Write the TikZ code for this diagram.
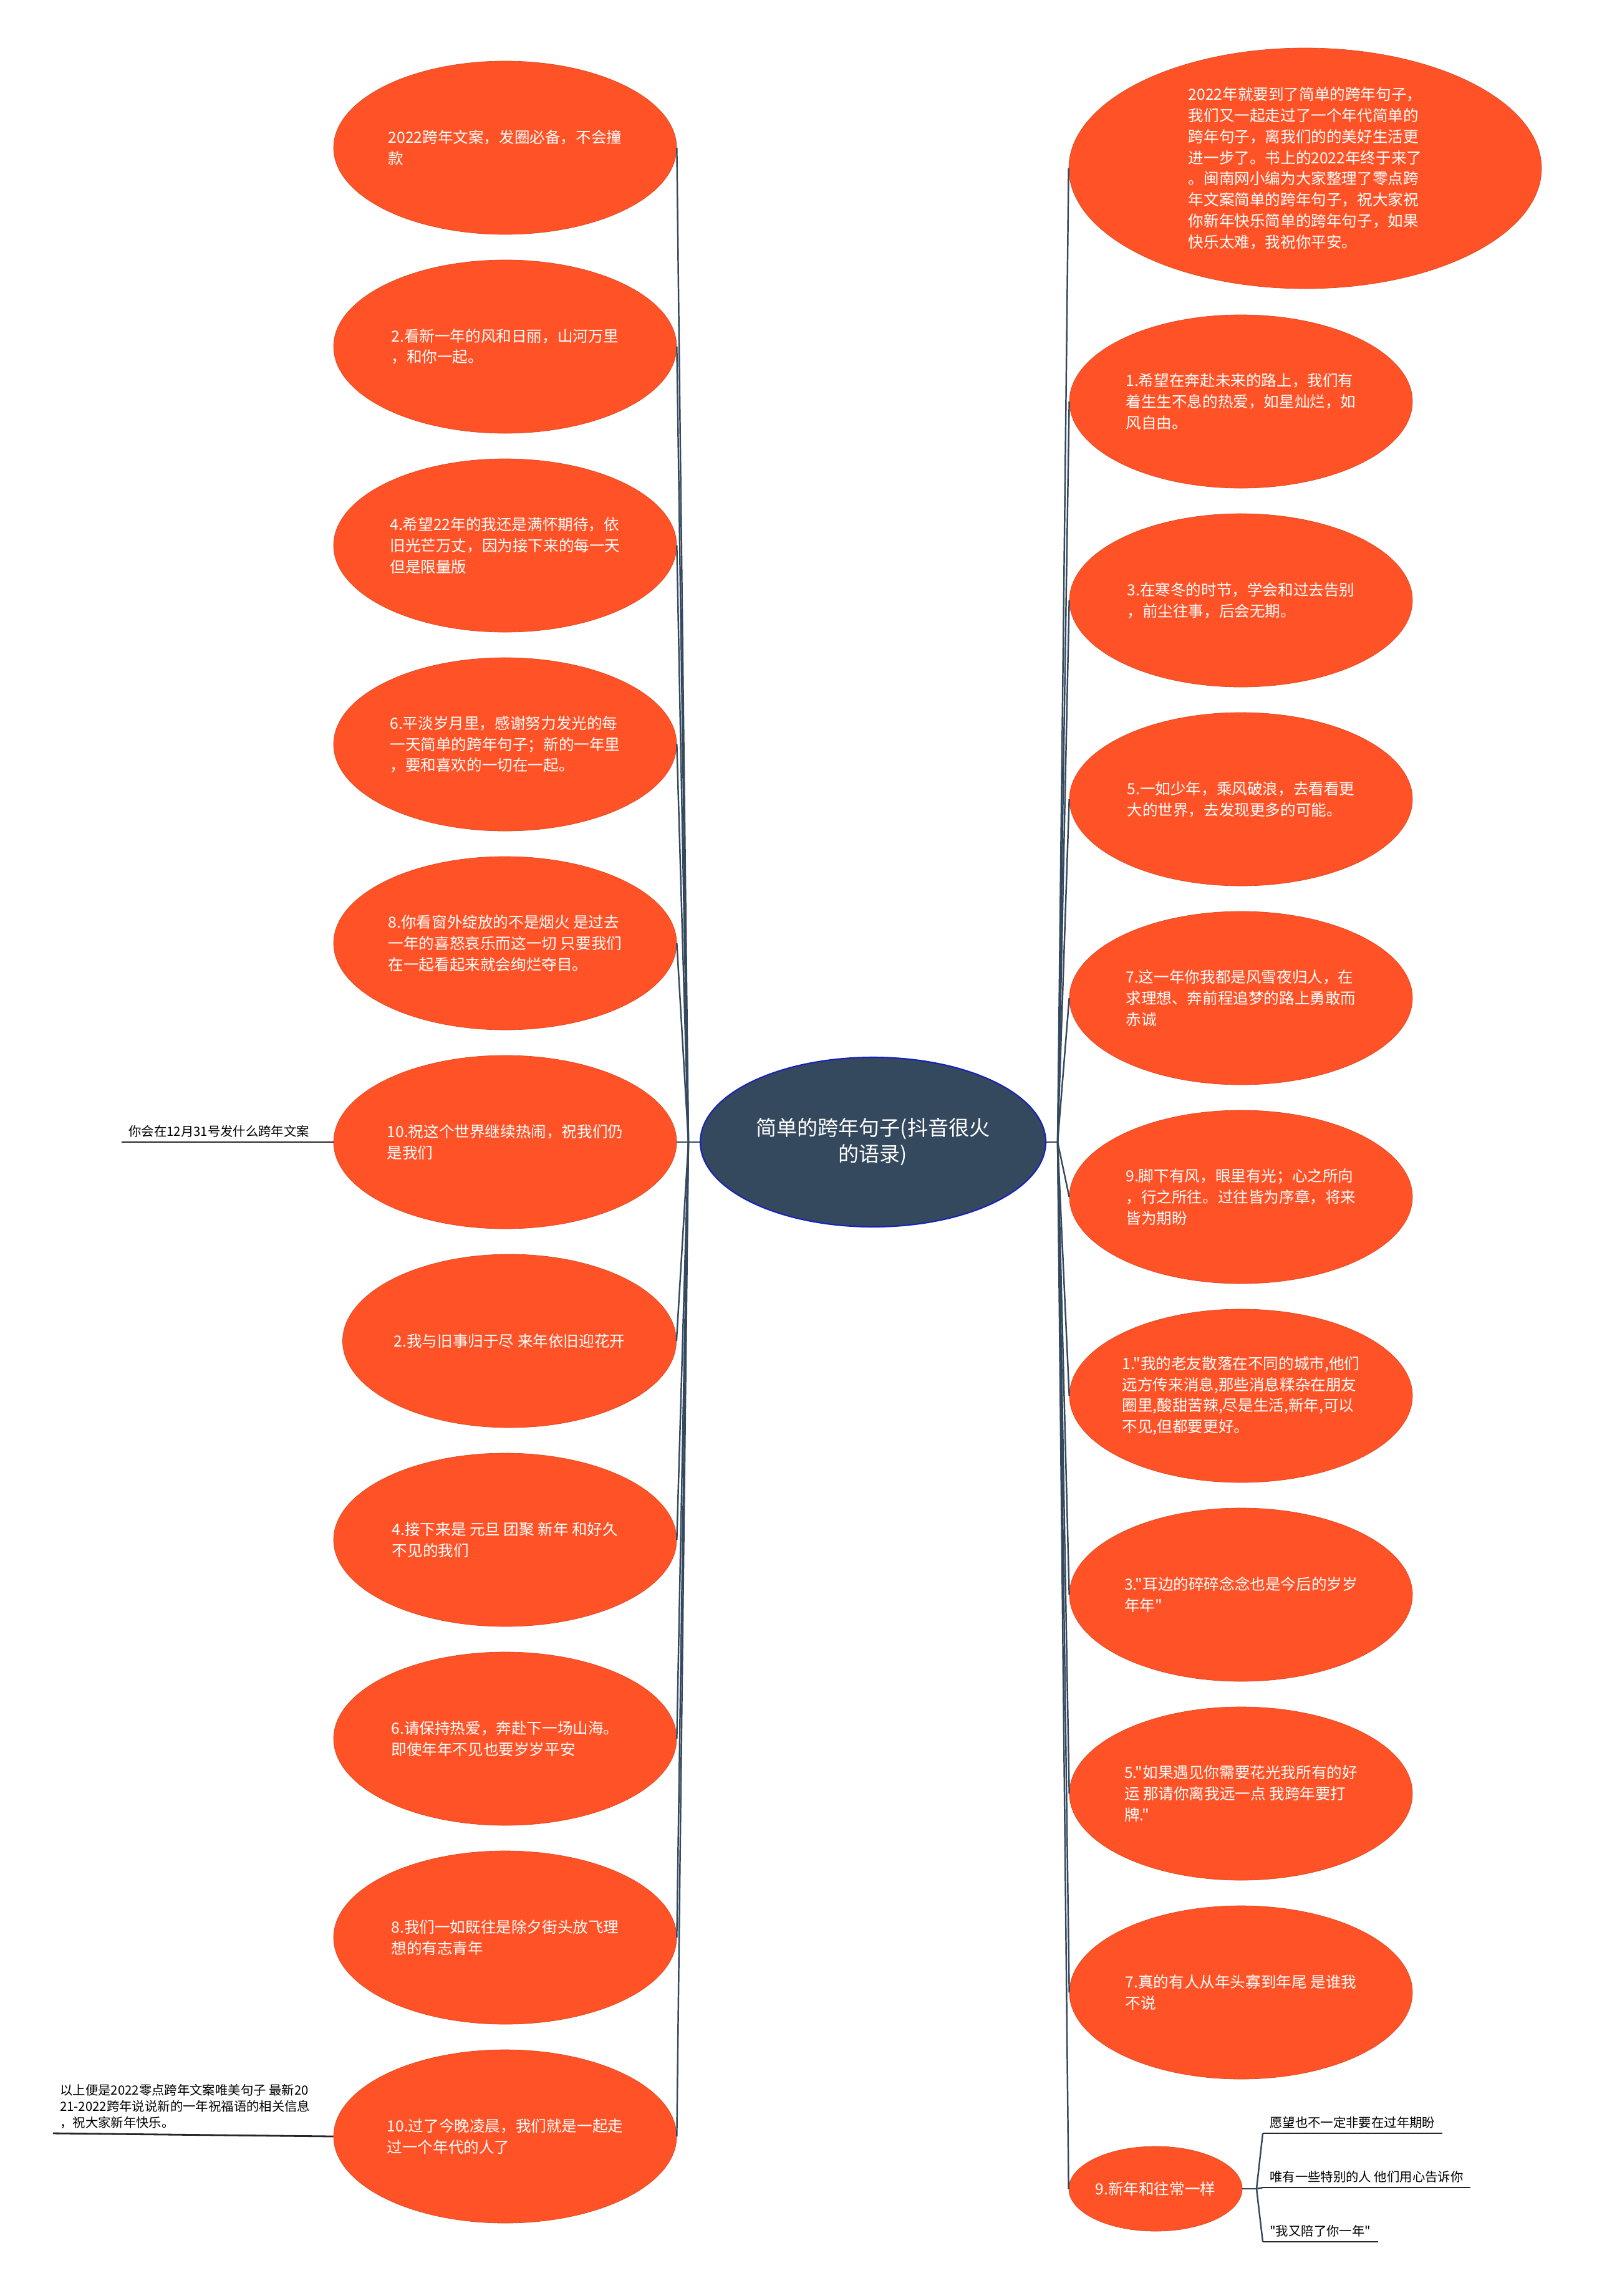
\documentclass[tikz,border=0pt]{standalone}
\usepackage{fontspec}
\newfontfamily\cjkfont{Noto Sans CJK SC}
\usepackage{tikz}
\usetikzlibrary{shapes.geometric}
\definecolor{fire}{HTML}{FF5227}
\definecolor{slate}{HTML}{34495E}

\begin{document}
\begin{tikzpicture}[
  idea/.style={ellipse,fill=fire,draw=fire!85!black,line width=0.2pt,text=white,inner sep=0pt,
    minimum width=5.5cm,minimum height=2.78cm,align=left,font=\cjkfont\fontsize{7}{9.6}\selectfont},
  topic/.style={ellipse,fill=slate,draw=blue!55!slate,line width=0.6pt,text=white,inner sep=0pt,
    minimum width=5.54cm,minimum height=2.72cm,align=center,font=\cjkfont\fontsize{9.4}{12}\selectfont},
  note/.style={inner xsep=3pt,inner ysep=2pt,align=left,font=\cjkfont\fontsize{5.8}{7.3}\selectfont},
  link/.style={draw=slate,line width=0.7pt},
  under/.style={draw=black!85,line width=0.8pt}
]
\useasboundingbox (0,0) rectangle (25.6,-36.83);

\node[topic] (root) at (14.00,-18.32) {简单的跨年句子(抖音很火\\的语录)};
\coordinate (jl) at (11.04,-18.32);
\coordinate (jr) at (16.96,-18.32);

% left side
\node[idea] (l1) at (8.10,-2.37) {2022跨年文案，发圈必备，不会撞\\款};
\node[idea] (l2) at (8.10,-5.56) {2.看新一年的风和日丽，山河万里\\，和你一起。};
\node[idea] (l3) at (8.10,-8.75) {4.希望22年的我还是满怀期待，依\\旧光芒万丈，因为接下来的每一天\\但是限量版};
\node[idea] (l4) at (8.10,-11.94) {6.平淡岁月里，感谢努力发光的每\\一天简单的跨年句子；新的一年里\\，要和喜欢的一切在一起。};
\node[idea] (l5) at (8.10,-15.13) {8.你看窗外绽放的不是烟火 是过去\\一年的喜怒哀乐而这一切 只要我们\\在一起看起来就会绚烂夺目。};
\node[idea] (l6) at (8.10,-18.32) {10.祝这个世界继续热闹，祝我们仍\\是我们};
\node[idea,minimum width=5.35cm] (l7) at (8.17,-21.51) {2.我与旧事归于尽 来年依旧迎花开};
\node[idea] (l8) at (8.10,-24.70) {4.接下来是 元旦 团聚 新年 和好久\\不见的我们};
\node[idea] (l9) at (8.10,-27.89) {6.请保持热爱，奔赴下一场山海。\\即使年年不见也要岁岁平安};
\node[idea] (l10) at (8.10,-31.08) {8.我们一如既往是除夕街头放飞理\\想的有志青年};
\node[idea] (l11) at (8.10,-34.27) {10.过了今晚凌晨，我们就是一起走\\过一个年代的人了};

\node[note,anchor=south west] (qa) at (1.95,-18.32) {你会在12月31号发什么跨年文案};
\node[note,anchor=south west] (qb) at (0.85,-34.22) {以上便是2022零点跨年文案唯美句子 最新20\\21-2022跨年说说新的一年祝福语的相关信息\\，祝大家新年快乐。};

% right side
\node[idea,minimum width=7.58cm,minimum height=3.86cm] (r0) at (20.93,-2.70) {2022年就要到了简单的跨年句子，\\我们又一起走过了一个年代简单的\\跨年句子，离我们的的美好生活更\\进一步了。书上的2022年终于来了\\。闽南网小编为大家整理了零点跨\\年文案简单的跨年句子，祝大家祝\\你新年快乐简单的跨年句子，如果\\快乐太难，我祝你平安。};
\node[idea] (r1) at (19.90,-6.44) {1.希望在奔赴未来的路上，我们有\\着生生不息的热爱，如星灿烂，如\\风自由。};
\node[idea] (r2) at (19.90,-9.63) {3.在寒冬的时节，学会和过去告别\\，前尘往事，后会无期。};
\node[idea] (r3) at (19.90,-12.82) {5.一如少年，乘风破浪，去看看更\\大的世界，去发现更多的可能。};
\node[idea] (r4) at (19.90,-16.01) {7.这一年你我都是风雪夜归人，在\\求理想、奔前程追梦的路上勇敢而\\赤诚};
\node[idea] (r5) at (19.90,-19.20) {9.脚下有风，眼里有光；心之所向\\，行之所往。过往皆为序章，将来\\皆为期盼};
\node[idea] (r6) at (19.90,-22.39) {1."我的老友散落在不同的城市,他们\\远方传来消息,那些消息糅杂在朋友\\圈里,酸甜苦辣,尽是生活,新年,可以\\不见,但都要更好。};
\node[idea] (r7) at (19.90,-25.58) {3."耳边的碎碎念念也是今后的岁岁\\年年"};
\node[idea] (r8) at (19.90,-28.77) {5."如果遇见你需要花光我所有的好\\运 那请你离我远一点 我跨年要打\\牌."};
\node[idea] (r9) at (19.90,-31.96) {7.真的有人从年头寡到年尾 是谁我\\不说};
\node[idea,minimum width=2.78cm,minimum height=1.36cm] (r10) at (18.53,-35.11) {9.新年和往常一样};

\coordinate (j10) at (20.15,-35.11);
\node[note,anchor=south west] (w1) at (20.25,-34.22) {愿望也不一定非要在过年期盼};
\node[note,anchor=south west] (w2) at (20.25,-35.09) {唯有一些特别的人 他们用心告诉你};
\node[note,anchor=south west] (w3) at (20.25,-35.96) {"我又陪了你一年"};

% connectors
\draw[link] (root.west) -- (jl);
\draw[link] (root.east) -- (jr);
\path[link]
(jl) edge (l1.east)
(jl) edge (l2.east)
(jl) edge (l3.east)
(jl) edge (l4.east)
(jl) edge (l5.east)
(jl) edge (l6.east)
(jl) edge (l7.east)
(jl) edge (l8.east)
(jl) edge (l9.east)
(jl) edge (l10.east)
(jl) edge (l11.east);
\path[link]
(jr) edge (r0.west)
(jr) edge (r1.west)
(jr) edge (r2.west)
(jr) edge (r3.west)
(jr) edge (r4.west)
(jr) edge (r5.west)
(jr) edge (r6.west)
(jr) edge (r7.west)
(jr) edge (r8.west)
(jr) edge (r9.west)
(jr) edge (r10.west);

\draw[under] (qa.south west) -- (l6.west);
\draw[under] (qb.south west) -- (l11.west);

\draw[link] (r10.east) -- (j10);
\path[link]
(j10) edge (w1.south west)
(j10) edge (w2.south west)
(j10) edge (w3.south west);
\draw[under] (w1.south west) -- (w1.south east);
\draw[under] (w2.south west) -- (w2.south east);
\draw[under] (w3.south west) -- (w3.south east);
\end{tikzpicture}
\end{document}
